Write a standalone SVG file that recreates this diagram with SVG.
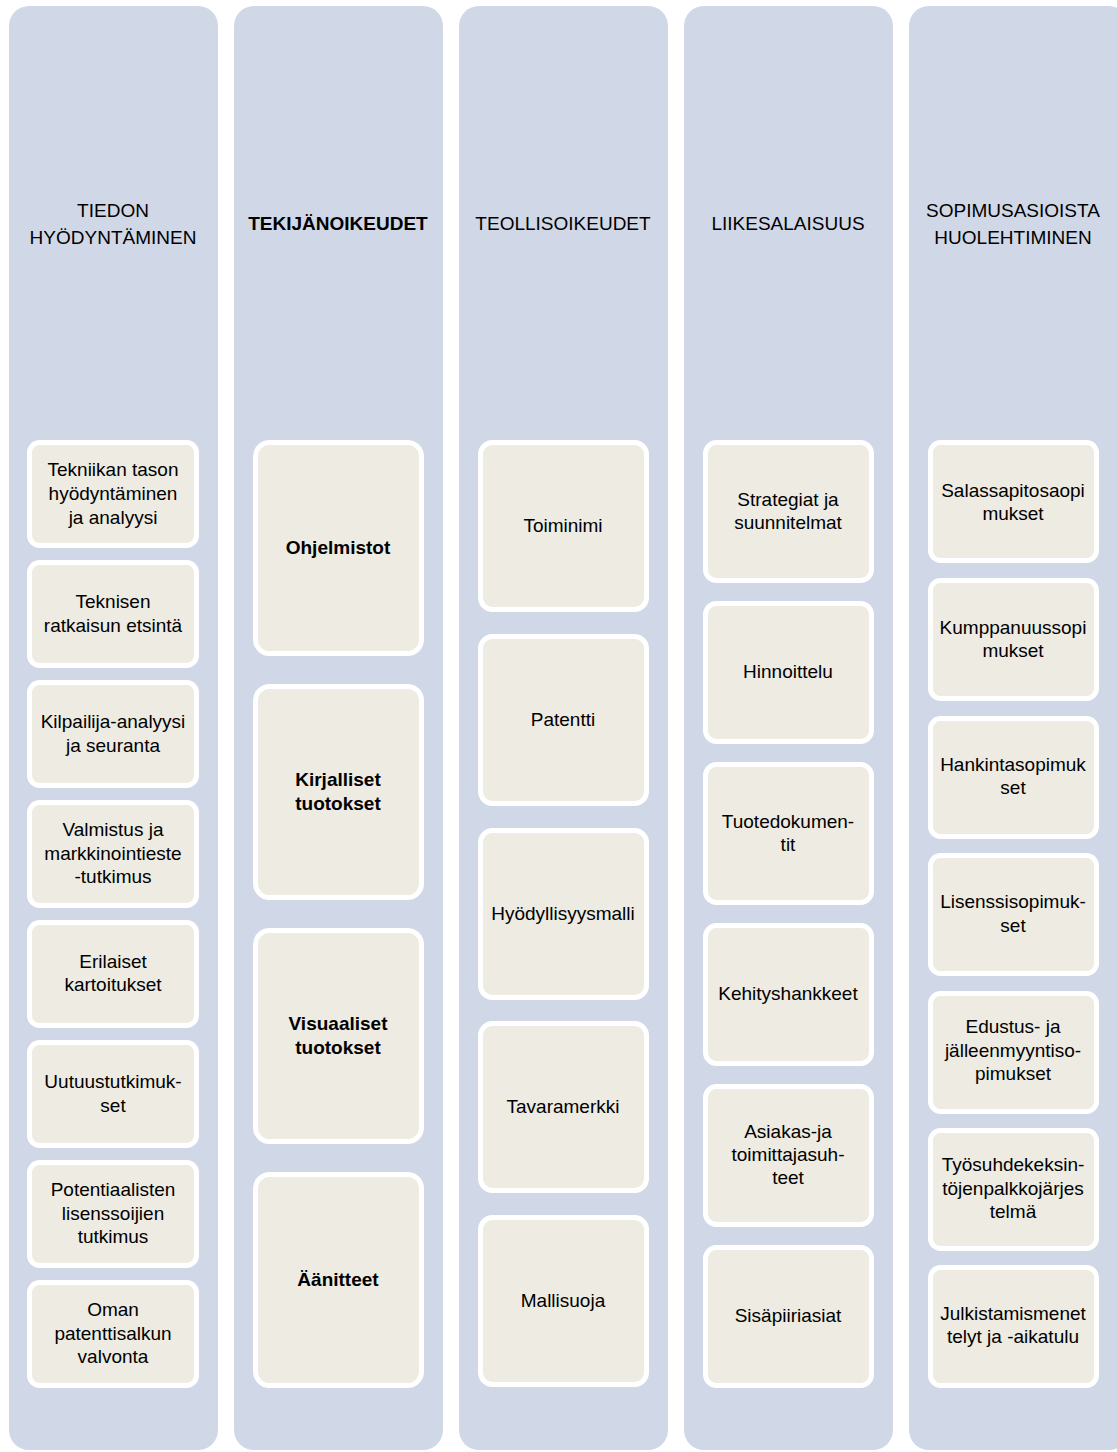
<svg xmlns="http://www.w3.org/2000/svg" width="1117" height="1452" viewBox="0 0 1117 1452">
<style>
.col{fill:#D0D8E8}
.box{fill:#EDEBE2;stroke:#FFFFFF;stroke-width:5}
text{font-family:"Liberation Sans",Arial,sans-serif;font-size:19px;fill:#000;text-anchor:middle}
.h{font-size:19px}
.b{font-weight:bold}
</style>
<rect width="1117" height="1452" fill="#FFFFFF"/>
<g id="columns">
<g id="col1"><rect class="col" x="9" y="6" width="209" height="1444" rx="20"/><text class="h" x="113" y="217">TIEDON</text><text class="h" x="113" y="244">HYÖDYNTÄMINEN</text></g>
<g id="col2"><rect class="col" x="234" y="6" width="209" height="1444" rx="20"/><text class="h b" x="338" y="230">TEKIJÄNOIKEUDET</text></g>
<g id="col3"><rect class="col" x="459" y="6" width="209" height="1444" rx="20"/><text class="h" x="563" y="230">TEOLLISOIKEUDET</text></g>
<g id="col4"><rect class="col" x="684" y="6" width="209" height="1444" rx="20"/><text class="h" x="788" y="230">LIIKESALAISUUS</text></g>
<g id="col5"><rect class="col" x="909" y="6" width="220" height="1444" rx="20"/><text class="h" x="1013" y="217">SOPIMUSASIOISTA</text><text class="h" x="1013" y="244">HUOLEHTIMINEN</text></g>
</g>
<g id="c1">
<g id="c1n1"><rect class="box" x="29.5" y="442.5" width="167" height="103" rx="10"/><text x="113" y="476">Tekniikan tason</text><text x="113" y="500">hyödyntäminen</text><text x="113" y="524">ja analyysi</text></g>
<g id="c1n2"><rect class="box" x="29.5" y="562.5" width="167" height="103" rx="10"/><text x="113" y="608">Teknisen</text><text x="113" y="632">ratkaisun etsintä</text></g>
<g id="c1n3"><rect class="box" x="29.5" y="682.5" width="167" height="103" rx="10"/><text x="113" y="728">Kilpailija-analyysi</text><text x="113" y="752">ja seuranta</text></g>
<g id="c1n4"><rect class="box" x="29.5" y="802.5" width="167" height="103" rx="10"/><text x="113" y="836">Valmistus ja</text><text x="113" y="860">markkinointieste</text><text x="113" y="883">-tutkimus</text></g>
<g id="c1n5"><rect class="box" x="29.5" y="922.5" width="167" height="103" rx="10"/><text x="113" y="968">Erilaiset</text><text x="113" y="991">kartoitukset</text></g>
<g id="c1n6"><rect class="box" x="29.5" y="1042.5" width="167" height="103" rx="10"/><text x="113" y="1088">Uutuustutkimuk-</text><text x="113" y="1112">set</text></g>
<g id="c1n7"><rect class="box" x="29.5" y="1162.5" width="167" height="103" rx="10"/><text x="113" y="1196">Potentiaalisten</text><text x="113" y="1220">lisenssoijien</text><text x="113" y="1243">tutkimus</text></g>
<g id="c1n8"><rect class="box" x="29.5" y="1282.5" width="167" height="103" rx="10"/><text x="113" y="1316">Oman</text><text x="113" y="1340">patenttisalkun</text><text x="113" y="1363">valvonta</text></g>
</g>
<g id="c2">
<g id="c2n1"><rect class="box" x="255.5" y="442.5" width="166" height="211" rx="14"/><text class="b" x="338" y="554">Ohjelmistot</text></g>
<g id="c2n2"><rect class="box" x="255.5" y="686.5" width="166" height="211" rx="14"/><text class="b" x="338" y="786">Kirjalliset</text><text class="b" x="338" y="810">tuotokset</text></g>
<g id="c2n3"><rect class="box" x="255.5" y="930.5" width="166" height="211" rx="14"/><text class="b" x="338" y="1030">Visuaaliset</text><text class="b" x="338" y="1054">tuotokset</text></g>
<g id="c2n4"><rect class="box" x="255.5" y="1174.5" width="166" height="211" rx="14"/><text class="b" x="338" y="1286">Äänitteet</text></g>
</g>
<g id="c3">
<g id="c3n1"><rect class="box" x="480.5" y="442.5" width="166" height="167" rx="12"/><text x="563" y="532">Toiminimi</text></g>
<g id="c3n2"><rect class="box" x="480.5" y="636.5" width="166" height="167" rx="12"/><text x="563" y="726">Patentti</text></g>
<g id="c3n3"><rect class="box" x="480.5" y="830.5" width="166" height="167" rx="12"/><text x="563" y="920">Hyödyllisyysmalli</text></g>
<g id="c3n4"><rect class="box" x="480.5" y="1023.5" width="166" height="167" rx="12"/><text x="563" y="1113">Tavaramerkki</text></g>
<g id="c3n5"><rect class="box" x="480.5" y="1217.5" width="166" height="167" rx="12"/><text x="563" y="1307">Mallisuoja</text></g>
</g>
<g id="c4">
<g id="c4n1"><rect class="box" x="705.5" y="442.5" width="166" height="138" rx="11"/><text x="788" y="506">Strategiat ja</text><text x="788" y="529">suunnitelmat</text></g>
<g id="c4n2"><rect class="box" x="705.5" y="603.5" width="166" height="138" rx="11"/><text x="788" y="678">Hinnoittelu</text></g>
<g id="c4n3"><rect class="box" x="705.5" y="764.5" width="166" height="138" rx="11"/><text x="788" y="828">Tuotedokumen-</text><text x="788" y="851">tit</text></g>
<g id="c4n4"><rect class="box" x="705.5" y="925.5" width="166" height="138" rx="11"/><text x="788" y="1000">Kehityshankkeet</text></g>
<g id="c4n5"><rect class="box" x="705.5" y="1086.5" width="166" height="138" rx="11"/><text x="788" y="1138">Asiakas-ja</text><text x="788" y="1161">toimittajasuh-</text><text x="788" y="1184">teet</text></g>
<g id="c4n6"><rect class="box" x="705.5" y="1247.5" width="166" height="138" rx="11"/><text x="788" y="1322">Sisäpiiriasiat</text></g>
</g>
<g id="c5">
<g id="c5n1"><rect class="box" x="930.5" y="442.5" width="166" height="118" rx="10"/><text x="1013" y="497">Salassapitosaopi</text><text x="1013" y="520">mukset</text></g>
<g id="c5n2"><rect class="box" x="930.5" y="580.5" width="166" height="118" rx="10"/><text x="1013" y="634">Kumppanuussopi</text><text x="1013" y="657">mukset</text></g>
<g id="c5n3"><rect class="box" x="930.5" y="718.5" width="166" height="118" rx="10"/><text x="1013" y="771">Hankintasopimuk</text><text x="1013" y="794">set</text></g>
<g id="c5n4"><rect class="box" x="930.5" y="855.5" width="166" height="118" rx="10"/><text x="1013" y="908">Lisenssisopimuk-</text><text x="1013" y="932">set</text></g>
<g id="c5n5"><rect class="box" x="930.5" y="993.5" width="166" height="118" rx="10"/><text x="1013" y="1033">Edustus- ja</text><text x="1013" y="1057">jälleenmyyntiso-</text><text x="1013" y="1080">pimukset</text></g>
<g id="c5n6"><rect class="box" x="930.5" y="1130.5" width="166" height="118" rx="10"/><text x="1013" y="1171">Työsuhdekeksin-</text><text x="1013" y="1195">töjenpalkkojärjes</text><text x="1013" y="1218">telmä</text></g>
<g id="c5n7"><rect class="box" x="930.5" y="1267.5" width="166" height="118" rx="10"/><text x="1013" y="1320">Julkistamismenet</text><text x="1013" y="1343">telyt ja -aikatulu</text></g>
</g>
<g id="connectors"/>
</svg>
